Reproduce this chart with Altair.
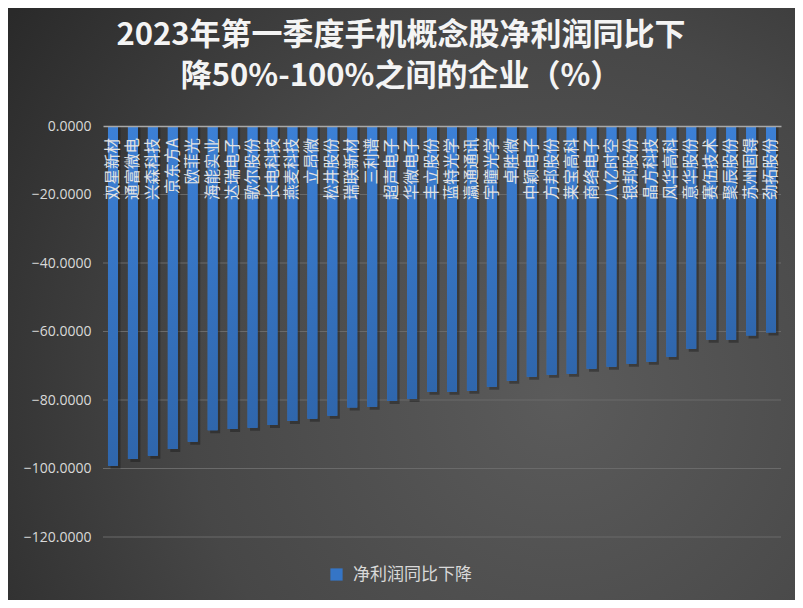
import altair as alt
import pandas as pd

names = ["双星新材", "通富微电", "兴森科技", "京东方A", "欧菲光", "海能实业", "达瑞电子",
         "歌尔股份", "长电科技", "燕麦科技", "立昂微", "松井股份", "瑞联新材", "三利谱",
         "超声电子", "华微电子", "丰立股份", "蓝特光学", "瀛通通讯", "宇瞳光学", "卓胜微",
         "中颖电子", "方邦股份", "莱宝高科", "商络电子", "八亿时空", "银邦股份", "晶方科技",
         "风华高科", "意华股份", "赛伍技术", "聚辰股份", "苏州固锝", "劲拓股份"]
values = [-99.2, -97.2, -96.3, -94.3, -92.2, -88.8, -88.5,
          -88.1, -87.3, -86.1, -85.5, -84.6, -82.2, -82.0,
          -80.3, -79.7, -77.6, -77.6, -77.3, -76.1, -74.4,
          -73.2, -72.6, -72.3, -70.9, -70.3, -69.4, -68.8,
          -67.4, -65.0, -62.4, -62.4, -61.2, -60.3]
series_name = "净利润同比下降"
title_lines = ["2023年第一季度手机概念股净利润同比下", "降50%-100%之间的企业（%）"]
y_ticks = [0, -20, -40, -60, -80, -100, -120]
grid_ticks = [-20, -40, -60, -80, -100, -120]

df = pd.DataFrame({"name": names, "value": values, "series": series_name})
grid_df = pd.DataFrame({"value": grid_ticks})
one = pd.DataFrame({"k": [0]})

W, H = 678, 411
PL, PT, PR, PB = 95, 118, 14, 63

y_scale = alt.Scale(domain=[-120, 0], nice=False, zero=False)
y_axis = alt.Axis(values=y_ticks, format=".4f", title=None, ticks=False,
                  domain=False, grid=False, labelPadding=12, labelColor="#d9d9d9",
                  labelFontSize=14, labelFont="Open Sans", zindex=2)

x_enc = alt.X("name:N", sort=names,
              scale=alt.Scale(paddingInner=0.5, paddingOuter=0.25),
              axis=alt.Axis(orient="top", labels=False, ticks=False, title=None,
                            domainColor="#a8a8a8", domainWidth=1.5, zindex=2, grid=False))
y_enc = alt.Y("value:Q", scale=y_scale, axis=y_axis)

bg_fill = alt.RadialGradient(
    gradient="radial", x1=0.7, y1=0.62, x2=0.7, y2=0.62, r1=0, r2=0.85,
    stops=[alt.GradientStop(color="#5b5b5b", offset=0),
           alt.GradientStop(color="#474747", offset=0.55),
           alt.GradientStop(color="#2a2a2a", offset=1)])
bg = alt.Chart(one).mark_rect(fill=bg_fill).encode(
    x=alt.value(-PL), x2=alt.value(W + PR), y=alt.value(-PT), y2=alt.value(H + PB))

grid = alt.Chart(grid_df).mark_rule(color="#6a6a6a", strokeWidth=1).encode(
    y=y_enc, x=alt.value(0), x2=alt.value(W))

shadow = alt.Chart(df).mark_bar(color="#141414", opacity=0.4, xOffset=2.5, yOffset=3).encode(
    x=x_enc, y=y_enc, y2=alt.datum(0))

bars = alt.Chart(df).mark_bar().encode(
    x=x_enc, y=y_enc, y2=alt.datum(0),
    color=alt.Color("series:N", scale=alt.Scale(range=["#3575c6"]),
                    legend=alt.Legend(orient="none", legendX=225, legendY=440, title=None,
                                      symbolType="square", symbolSize=150,
                                      symbolStrokeWidth=0, labelFontSize=17,
                                      labelColor="#d9d9d9", labelFont="Noto Sans CJK SC",
                                      labelOffset=8)))

bar_fill = alt.LinearGradient(
    gradient="linear", x1=0, y1=0, x2=0, y2=1,
    stops=[alt.GradientStop(color="#3c80d6", offset=0),
           alt.GradientStop(color="#2f66ac", offset=1)])
bars_grad = alt.Chart(df).mark_bar(fill=bar_fill).encode(
    x=x_enc, y=y_enc, y2=alt.datum(0))

labels = alt.Chart(df).mark_text(
    angle=270, align="right", baseline="middle", fontSize=15.5,
    color="#e2e2e2", font="Noto Sans CJK SC"
).encode(x=x_enc, y=alt.value(12), text="name:N")


def title_layer(txt, yv):
    return alt.Chart(one).mark_text(
        text=txt, fontSize=31, fontWeight="bold", color="#f4f4f4",
        font="Noto Sans CJK SC", align="center", baseline="middle"
    ).encode(x=alt.value(298), y=alt.value(yv))


t_layers = [title_layer(title_lines[0], -90), title_layer(title_lines[1], -49)]

chart = alt.layer(bg, grid, shadow, bars, bars_grad, labels, *t_layers).properties(
    width=W, height=H,
    padding={"left": PL, "top": PT, "right": PR, "bottom": PB},
    autosize=alt.AutoSizeParams(type="none"),
    background="#333333",
).configure_view(stroke=None)

chart.save("out.html", embed_options={"renderer": "svg", "actions": False})
